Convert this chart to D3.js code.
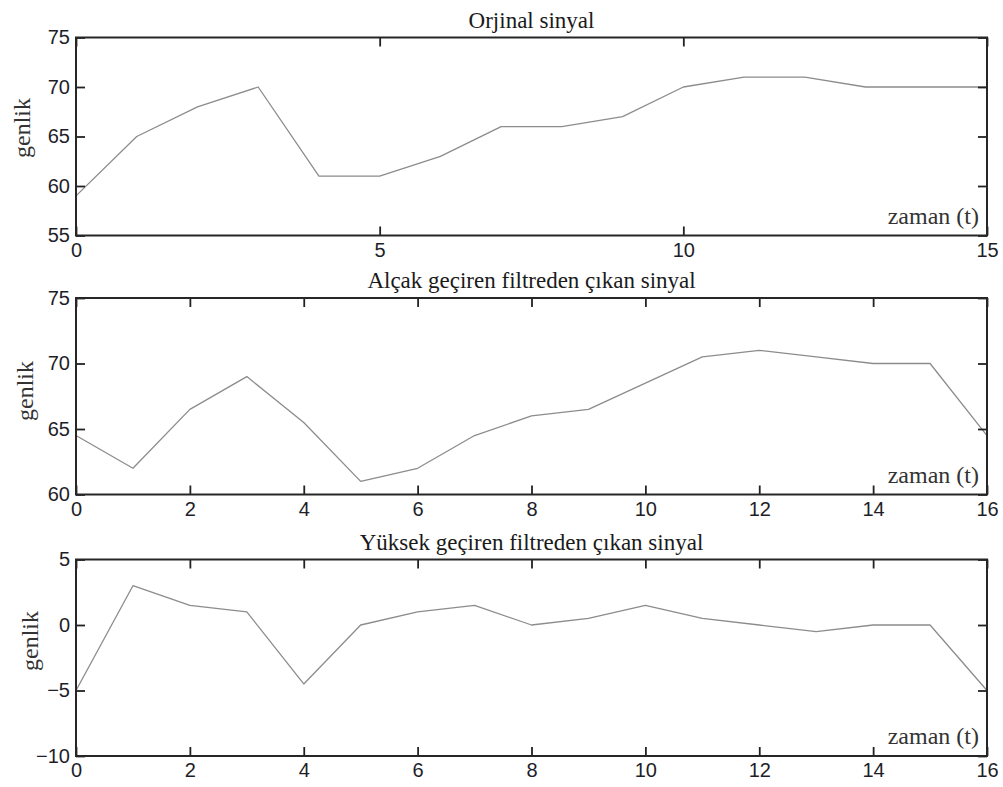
<!DOCTYPE html>
<html>
<head>
<meta charset="utf-8">
<script src="https://cdn.jsdelivr.net/npm/d3@7"></script>
<style>
  html, body { margin: 0; padding: 0; background: #fff; }
  svg { display: block; }
</style>
</head>
<body>
<svg id="chart" width="1003" height="787"></svg>
<script>
// Sample index for each signal
const tOriginal = [0, 1, 2, 3, 4, 5, 6, 7, 8, 9, 10, 11, 12, 13, 14, 15];
const tFiltered = [0, 1, 2, 3, 4, 5, 6, 7, 8, 9, 10, 11, 12, 13, 14, 15, 16];

// Signal amplitudes
const originalSignal = [59, 65, 68, 70, 61, 61, 63, 66, 66, 67, 70, 71, 71, 70, 70, 70];
const lowPassSignal  = [64.5, 62, 66.5, 69, 65.5, 61, 62, 64.5, 66, 66.5, 68.5, 70.5, 71, 70.5, 70, 70, 64.5];
const highPassSignal = [-5, 3, 1.5, 1, -4.5, 0, 1, 1.5, 0, 0.5, 1.5, 0.5, 0, -0.5, 0, 0, -5];

// Titles and tick values
const titles = [
  "Orjinal sinyal",
  "Alçak geçiren filtreden çıkan sinyal",
  "Yüksek geçiren filtreden çıkan sinyal"
];
const xTicksOriginal = [0, 5, 10, 15];
const xTicksFiltered = [0, 2, 4, 6, 8, 10, 12, 14, 16];
const yTicksOriginal = [55, 60, 65, 70, 75];
const yTicksLowPass  = [60, 65, 70, 75];
const yTicksHighPass = [-10, -5, 0, 5];
const yLabel = "genlik";
const xLabel = "zaman (t)";

const panels = [
  { t: tOriginal, v: originalSignal, xDom: [0, 15], yDom: [55, 75], xTicks: xTicksOriginal, yTicks: yTicksOriginal,
    top: 37.5, bottom: 235.5, title: titles[0], labelX: 23, labelY: 128 },
  { t: tFiltered, v: lowPassSignal, xDom: [0, 16], yDom: [60, 75], xTicks: xTicksFiltered, yTicks: yTicksLowPass,
    top: 298, bottom: 494.5, title: titles[1], labelX: 26, labelY: 391 },
  { t: tFiltered, v: highPassSignal, xDom: [0, 16], yDom: [-10, 5], xTicks: xTicksFiltered, yTicks: yTicksHighPass,
    top: 559.5, bottom: 756, title: titles[2], labelX: 31, labelY: 641 }
];

const left = 76, right = 987;
const tickLen = 9;
const svg = d3.select("#chart");
const serif = "'Liberation Serif', 'Times New Roman', serif";
const sans = "'Liberation Sans', Arial, sans-serif";
const fmt = d => (d < 0 ? "\u2212" + Math.abs(d) : String(d));

panels.forEach(p => {
  const x = d3.scaleLinear().domain(p.xDom).range([left, right]);
  const y = d3.scaleLinear().domain(p.yDom).range([p.bottom, p.top]);
  const g = svg.append("g");

  // signal trace
  const line = d3.line().x((d, i) => x(p.t[i])).y(d => y(d));
  g.append("path")
    .datum(p.v)
    .attr("d", line)
    .attr("fill", "none")
    .attr("stroke", "#8c8c8c")
    .attr("stroke-width", 1.3)
    .attr("stroke-linejoin", "round");

  const styleAxis = sel => {
    sel.select(".domain").remove();
    sel.selectAll(".tick line").attr("stroke", "#222").attr("stroke-width", 1.8);
    sel.selectAll(".tick text")
      .attr("fill", "#1e1e28")
      .style("font-family", sans)
      .style("font-size", "20px");
  };

  // bottom axis with labels, inward ticks
  g.append("g").attr("transform", `translate(0,${p.bottom})`)
    .call(d3.axisBottom(x).tickValues(p.xTicks).tickSizeInner(-tickLen).tickSizeOuter(0).tickPadding(7).tickFormat(fmt))
    .call(styleAxis);
  // top axis, ticks only
  g.append("g").attr("transform", `translate(0,${p.top})`)
    .call(d3.axisTop(x).tickValues(p.xTicks).tickSizeInner(-tickLen).tickSizeOuter(0).tickFormat(""))
    .call(styleAxis);
  // left axis with labels
  g.append("g").attr("transform", `translate(${left},0)`)
    .call(d3.axisLeft(y).tickValues(p.yTicks).tickSizeInner(-tickLen).tickSizeOuter(0).tickPadding(6).tickFormat(fmt))
    .call(styleAxis);
  // right axis, ticks only
  g.append("g").attr("transform", `translate(${right},0)`)
    .call(d3.axisRight(y).tickValues(p.yTicks).tickSizeInner(-tickLen).tickSizeOuter(0).tickFormat(""))
    .call(styleAxis);

  // frame
  g.append("rect")
    .attr("x", left).attr("y", p.top)
    .attr("width", right - left).attr("height", p.bottom - p.top)
    .attr("fill", "none")
    .attr("stroke", "#262626")
    .attr("stroke-width", 2);

  // title
  g.append("text")
    .attr("x", (left + right) / 2)
    .attr("y", p.top - 10)
    .attr("text-anchor", "middle")
    .style("font-family", serif)
    .style("font-size", "23px")
    .attr("fill", "#1a1a1a")
    .text(p.title);

  // y label
  g.append("text")
    .attr("transform", `translate(${p.labelX + 7},${p.labelY}) rotate(-90)`)
    .attr("text-anchor", "middle")
    .style("font-family", serif)
    .style("font-size", "24px")
    .attr("fill", "#333")
    .text(yLabel);

  // x label inside the frame, lower right
  g.append("text")
    .attr("x", right - 8)
    .attr("y", p.bottom - 12)
    .attr("text-anchor", "end")
    .style("font-family", serif)
    .style("font-size", "24px")
    .attr("fill", "#333")
    .text(xLabel);
});
</script>
</body>
</html>
